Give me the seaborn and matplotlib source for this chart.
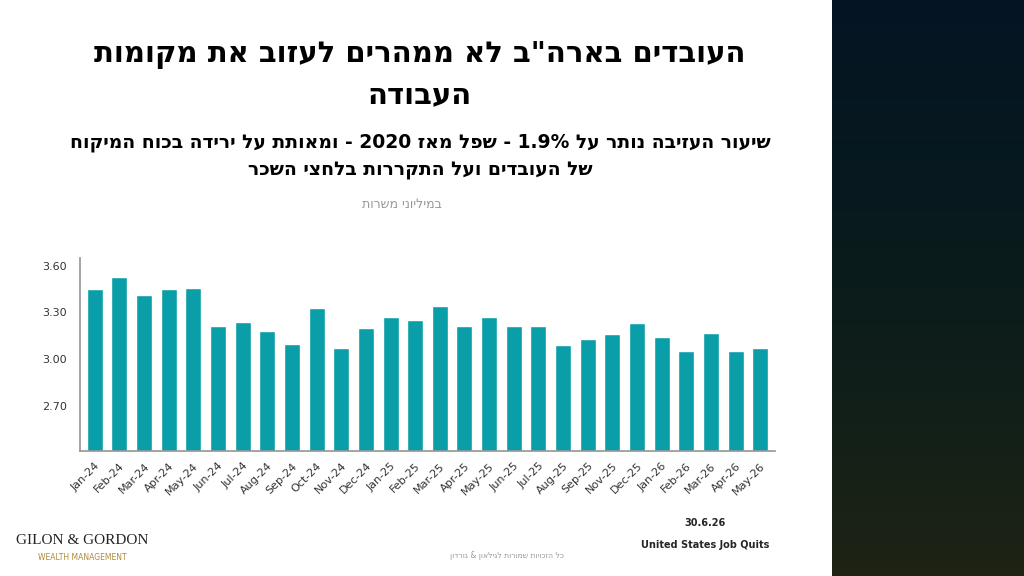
import re
import numpy as np
import pandas as pd
import matplotlib
matplotlib.use("Agg")
import matplotlib.pyplot as plt
import seaborn as sns

months = ["Jan-24","Feb-24","Mar-24","Apr-24","May-24","Jun-24","Jul-24","Aug-24","Sep-24","Oct-24",
          "Nov-24","Dec-24","Jan-25","Feb-25","Mar-25","Apr-25","May-25","Jun-25","Jul-25","Aug-25",
          "Sep-25","Nov-25","Dec-25","Jan-26","Feb-26","Mar-26","Apr-26","May-26"]
quits = [3.45,3.53,3.41,3.45,3.46,3.21,3.24,3.18,3.10,3.33,
         3.07,3.20,3.27,3.25,3.34,3.21,3.27,3.21,3.21,3.09,
         3.13,3.16,3.23,3.14,3.05,3.17,3.05,3.07]
yticks = [2.70, 3.00, 3.30, 3.60]

def rtl(s):
    r = s[::-1]
    return re.sub(r'[0-9A-Za-z.%&]+', lambda m: m.group(0)[::-1], r)

sns.set_theme(style="white")
plt.rcParams['font.family'] = ['DejaVu Sans']
fig = plt.figure(figsize=(10.24, 5.76), dpi=100)
W, H = 1024, 576

pax = fig.add_axes([832/W, 0, 192/W, 1])
grad = np.linspace(0, 1, 256)[:, None]
cols = np.zeros((256, 1, 3))
cols[..., 0] = 0.02 + 0.10 * grad**2
cols[..., 1] = 0.08 + 0.06 * grad
cols[..., 2] = 0.14 - 0.06 * grad
pax.imshow(cols, aspect='auto', extent=[0, 1, 0, 1], origin='upper')
pax.axis('off')

ax = fig.add_axes([80/W, 1-451/H, 695/W, (451-258)/H])
df = pd.DataFrame({"m": months, "v": quits})
sns.barplot(data=df, x="m", y="v", color="#0a9ea8", saturation=1, width=0.65, ax=ax)
ax.set_ylim(2.41, 3.65)
ax.set_yticks(yticks)
ax.set_yticklabels([f"{t:.2f}" for t in yticks], fontsize=8, color="#333333")
ax.set_xlabel(""); ax.set_ylabel("")
ax.tick_params(axis='x', labelrotation=45, labelsize=8, colors="#333333", pad=1)
for l in ax.get_xticklabels():
    l.set_ha('right'); l.set_rotation_mode('anchor')
for s in ["top", "right"]:
    ax.spines[s].set_visible(False)
for s in ["left", "bottom"]:
    ax.spines[s].set_color("#999999")
ax.set_xlim(-0.6, len(months) - 0.4)

fig.text(420/W, 1-55/H, rtl('העובדים בארה"ב לא ממהרים לעזוב את מקומות'), ha='center', va='center',
         fontsize=21, fontweight='bold', color='black')
fig.text(420/W, 1-95/H, rtl('העבודה'), ha='center', va='center', fontsize=21, fontweight='bold', color='black')
fig.text(420/W, 1-143/H, rtl('שיעור העזיבה נותר על 1.9% - שפל מאז 2020 - ומאותת על ירידה בכוח המיקוח'),
         ha='center', va='center', fontsize=13.5, fontweight='bold', color='black')
fig.text(420/W, 1-170/H, rtl('של העובדים ועל התקררות בלחצי השכר'), ha='center', va='center',
         fontsize=13.5, fontweight='bold', color='black')
fig.text(402/W, 1-205/H, rtl('במיליוני משרות'), ha='center', va='center', fontsize=9, color='#999999')

fig.text(82/W, 1-540/H, "GILON & GORDON", ha='center', va='center', fontsize=11, family='Liberation Serif', color='#222222')
fig.text(82/W, 1-557/H, "WEALTH MANAGEMENT", ha='center', va='center', fontsize=5.5, color='#b08a3a')
fig.text(705/W, 1-523/H, "30.6.26", ha='center', va='center', fontsize=7, fontweight='bold')
fig.text(705/W, 1-545/H, "United States Job Quits", ha='center', va='center', fontsize=7, fontweight='bold')
fig.text(507/W, 1-555/H, rtl('כל הזכויות שמורות לגילאון & גורדון'), ha='center', va='center', fontsize=5.5, color='#999999')

fig.savefig("out.png", dpi=100)
